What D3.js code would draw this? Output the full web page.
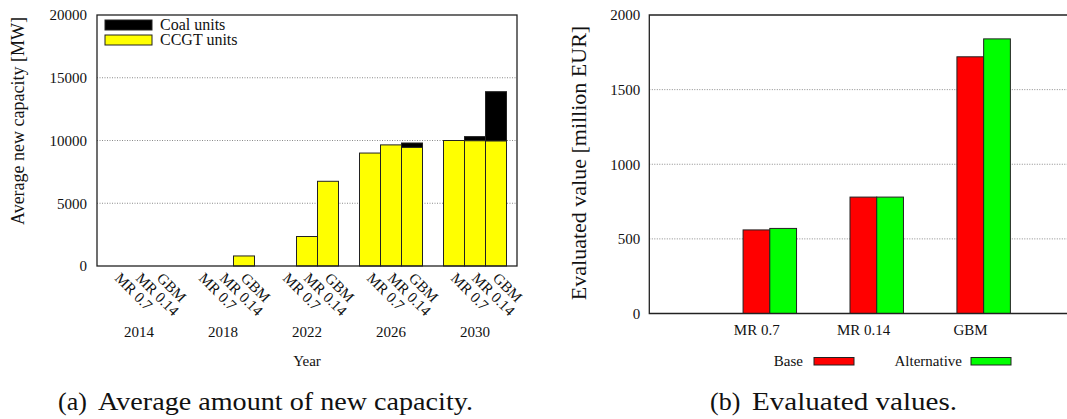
<!DOCTYPE html>
<html>
<head>
<meta charset="utf-8">
<script src="https://cdn.jsdelivr.net/npm/d3@7"></script>
<style>
  html, body { margin: 0; padding: 0; background: #fff; }
  svg { display: block; font-family: "Liberation Serif", "DejaVu Serif", serif; }
  svg text { font-family: "Liberation Serif", "DejaVu Serif", serif !important; fill: #111; }
</style>
</head>
<body>
<svg id="fig" width="1067" height="419"></svg>
<script>
// ---- (a) new capacity per year and price model ----
const years = ["2014", "2018", "2022", "2026", "2030"];
const models = ["MR 0.7", "MR 0.14", "GBM"];
// CCGT units [MW], one value per year
const ccgtMR07  = [0, 0, 0, 9000, 10000];
const ccgtMR014 = [0, 0, 2350, 9650, 9980];
const ccgtGBM   = [0, 800, 6750, 9450, 9960];
// Coal units [MW], stacked on top of CCGT
const coalMR07  = [0, 0, 0, 0, 0];
const coalMR014 = [0, 0, 0, 0, 330];
const coalGBM   = [0, 0, 0, 350, 3930];
const capTicks  = [0, 5000, 10000, 15000, 20000];

// ---- (b) evaluated values ----
const cases = ["MR 0.7", "MR 0.14", "GBM"];
const baseValues = [560, 780, 1720];
const altValues  = [570, 780, 1840];
const valTicks   = [0, 500, 1000, 1500, 2000];

const ccgtByModel = [ccgtMR07, ccgtMR014, ccgtGBM];
const coalByModel = [coalMR07, coalMR014, coalGBM];

const svg = d3.select("#fig");
const FS = 15;
const FONT = "Liberation Serif, DejaVu Serif, serif";

// ================= panel (a) =================
const a = { left: 97, right: 517, top: 15, bottom: 266 };
const xa = d3.scaleLinear().domain([0, years.length * 4]).range([a.left, a.right]);
const ya = d3.scaleLinear().domain([0, 20000]).range([a.bottom, a.top]);
const gA = svg.append("g");

// dotted grid
gA.append("g").selectAll("line")
  .data(capTicks.filter(t => t > 0 && t < 20000))
  .join("line")
  .attr("x1", a.left).attr("x2", a.right)
  .attr("y1", d => ya(d)).attr("y2", d => ya(d))
  .attr("stroke", "#8a8a8a").attr("stroke-width", 1)
  .attr("stroke-dasharray", "1,1.5");

// stacked bars
const barsA = [];
years.forEach((yr, g) => {
  models.forEach((m, j) => {
    barsA.push({ g, j, ccgt: ccgtByModel[j][g], coal: coalByModel[j][g] });
  });
});
const slot = d => d.g * 4 + 0.5 + d.j;

gA.append("g").selectAll("rect")
  .data(barsA.filter(d => d.coal > 0))
  .join("rect")
  .attr("x", d => xa(slot(d)))
  .attr("width", d => xa(slot(d) + 1) - xa(slot(d)))
  .attr("y", d => ya(d.ccgt + d.coal))
  .attr("height", d => ya(d.ccgt) - ya(d.ccgt + d.coal))
  .attr("fill", "#000").attr("stroke", "#222").attr("stroke-width", 1);

gA.append("g").selectAll("rect")
  .data(barsA)
  .join("rect")
  .attr("x", d => xa(slot(d)))
  .attr("width", d => xa(slot(d) + 1) - xa(slot(d)))
  .attr("y", d => ya(d.ccgt))
  .attr("height", d => ya(0) - ya(d.ccgt))
  .attr("fill", "#ffff00").attr("stroke", "#222").attr("stroke-width", 1);

// frame
gA.append("rect")
  .attr("x", a.left).attr("y", a.top)
  .attr("width", a.right - a.left).attr("height", a.bottom - a.top)
  .attr("fill", "none").attr("stroke", "#222").attr("stroke-width", 1.3);

// y axis
const yAxisA = gA.append("g")
  .attr("transform", `translate(${a.left},0)`)
  .call(d3.axisLeft(ya).tickValues(capTicks).tickFormat(d3.format("d")).tickSize(0).tickPadding(10));
yAxisA.attr("font-family", FONT).attr("font-size", FS);
yAxisA.select(".domain").remove();
yAxisA.selectAll("text").attr("fill", "#111");

gA.append("text")
  .attr("transform", "translate(24,121) rotate(-90)")
  .attr("text-anchor", "middle").attr("font-size", 18)
  .text("Average new capacity [MW]");

// rotated model labels under each bar
gA.append("g").selectAll("text")
  .data(barsA)
  .join("text")
  .attr("transform", d => `translate(${xa(slot(d) + 0.5) - 4},279) rotate(45)`)
  .attr("font-size", FS)
  .text(d => models[d.j]);

// year labels
gA.append("g").selectAll("text")
  .data(years)
  .join("text")
  .attr("x", (d, g) => xa(g * 4 + 2))
  .attr("y", 337)
  .attr("text-anchor", "middle").attr("font-size", FS)
  .text(d => d);

gA.append("text")
  .attr("x", (a.left + a.right) / 2).attr("y", 366)
  .attr("text-anchor", "middle").attr("font-size", FS)
  .text("Year");

// legend
const legA = [{ name: "Coal units", fill: "#000" }, { name: "CCGT units", fill: "#ffff00" }];
const lg = gA.append("g").selectAll("g").data(legA).join("g")
  .attr("transform", (d, i) => `translate(105,${20 + i * 15})`);
lg.append("rect").attr("width", 47).attr("height", 10)
  .attr("fill", d => d.fill).attr("stroke", "#222").attr("stroke-width", 1);
lg.append("text").attr("x", 55).attr("y", 9.5).attr("font-size", 16).text(d => d.name);

// ================= panel (b) =================
const b = { left: 649.3, right: 1077, top: 15, bottom: 313.5 };
const xb = d3.scaleLinear().domain([-1, 3]).range([b.left, b.right]);
const yb = d3.scaleLinear().domain([0, 2000]).range([b.bottom, b.top]);
const gB = svg.append("g");

gB.append("g").selectAll("line")
  .data(valTicks.filter(t => t > 0 && t < 2000))
  .join("line")
  .attr("x1", b.left).attr("x2", b.right)
  .attr("y1", d => yb(d)).attr("y2", d => yb(d))
  .attr("stroke", "#8a8a8a").attr("stroke-width", 1)
  .attr("stroke-dasharray", "1,1.5");

const barW = 0.25, barOff = -0.123;
gB.append("g").selectAll("rect")
  .data(cases.map((c, i) => ({ i, v: baseValues[i] })))
  .join("rect")
  .attr("x", d => xb(d.i + barOff))
  .attr("width", xb(barW) - xb(0))
  .attr("y", d => yb(d.v))
  .attr("height", d => yb(0) - yb(d.v))
  .attr("fill", "#ff0000").attr("stroke", "#222").attr("stroke-width", 1);
gB.append("g").selectAll("rect")
  .data(cases.map((c, i) => ({ i, v: altValues[i] })))
  .join("rect")
  .attr("x", d => xb(d.i + barOff + barW))
  .attr("width", xb(barW) - xb(0))
  .attr("y", d => yb(d.v))
  .attr("height", d => yb(0) - yb(d.v))
  .attr("fill", "#00ff00").attr("stroke", "#222").attr("stroke-width", 1);

// frame (right side runs past the page edge)
gB.append("path")
  .attr("d", `M${b.right},${b.top}H${b.left}V${b.bottom}H${b.right}`)
  .attr("fill", "none").attr("stroke", "#222").attr("stroke-width", 1.3);

const yAxisB = gB.append("g")
  .attr("transform", `translate(${b.left},0)`)
  .call(d3.axisLeft(yb).tickValues(valTicks).tickFormat(d3.format("d")).tickSize(0).tickPadding(9));
yAxisB.attr("font-family", FONT).attr("font-size", FS);
yAxisB.select(".domain").remove();
yAxisB.selectAll("text").attr("fill", "#111");

const xAxisB = gB.append("g")
  .attr("transform", `translate(0,${b.bottom})`)
  .call(d3.axisBottom(xb).tickValues(cases.map((c, i) => i)).tickFormat(i => cases[i]).tickSize(0).tickPadding(11));
xAxisB.attr("font-family", FONT).attr("font-size", FS);
xAxisB.select(".domain").remove();
xAxisB.selectAll("text").attr("fill", "#111");

gB.append("text")
  .attr("transform", "translate(586,163) rotate(-90)")
  .attr("text-anchor", "middle").attr("font-size", 22)
  .text("Evaluated value [million EUR]");

// legend
const legB = [
  { name: "Base", fill: "#ff0000", textEnd: 803, box: 814 },
  { name: "Alternative", fill: "#00ff00", textEnd: 962, box: 971 }
];
const lgb = gB.append("g").selectAll("g").data(legB).join("g");
lgb.append("text").attr("x", d => d.textEnd).attr("y", 366)
  .attr("text-anchor", "end").attr("font-size", FS).text(d => d.name);
lgb.append("rect").attr("x", d => d.box).attr("y", 357.5)
  .attr("width", 40).attr("height", 7.5)
  .attr("fill", d => d.fill).attr("stroke", "#222").attr("stroke-width", 1);

// ================= captions =================
const caps = [
  { tag: "(a)", x: 58, body: "Average amount of new capacity.", bx: 98, bw: 375 },
  { tag: "(b)", x: 710, body: "Evaluated values.", bx: 752, bw: 205 }
];
caps.forEach(c => {
  svg.append("text").attr("x", c.x).attr("y", 410).attr("font-size", 26).text(c.tag);
  svg.append("text").attr("x", c.bx).attr("y", 410).attr("font-size", 26)
    .attr("textLength", c.bw).attr("lengthAdjust", "spacingAndGlyphs").text(c.body);
});
</script>
</body>
</html>
